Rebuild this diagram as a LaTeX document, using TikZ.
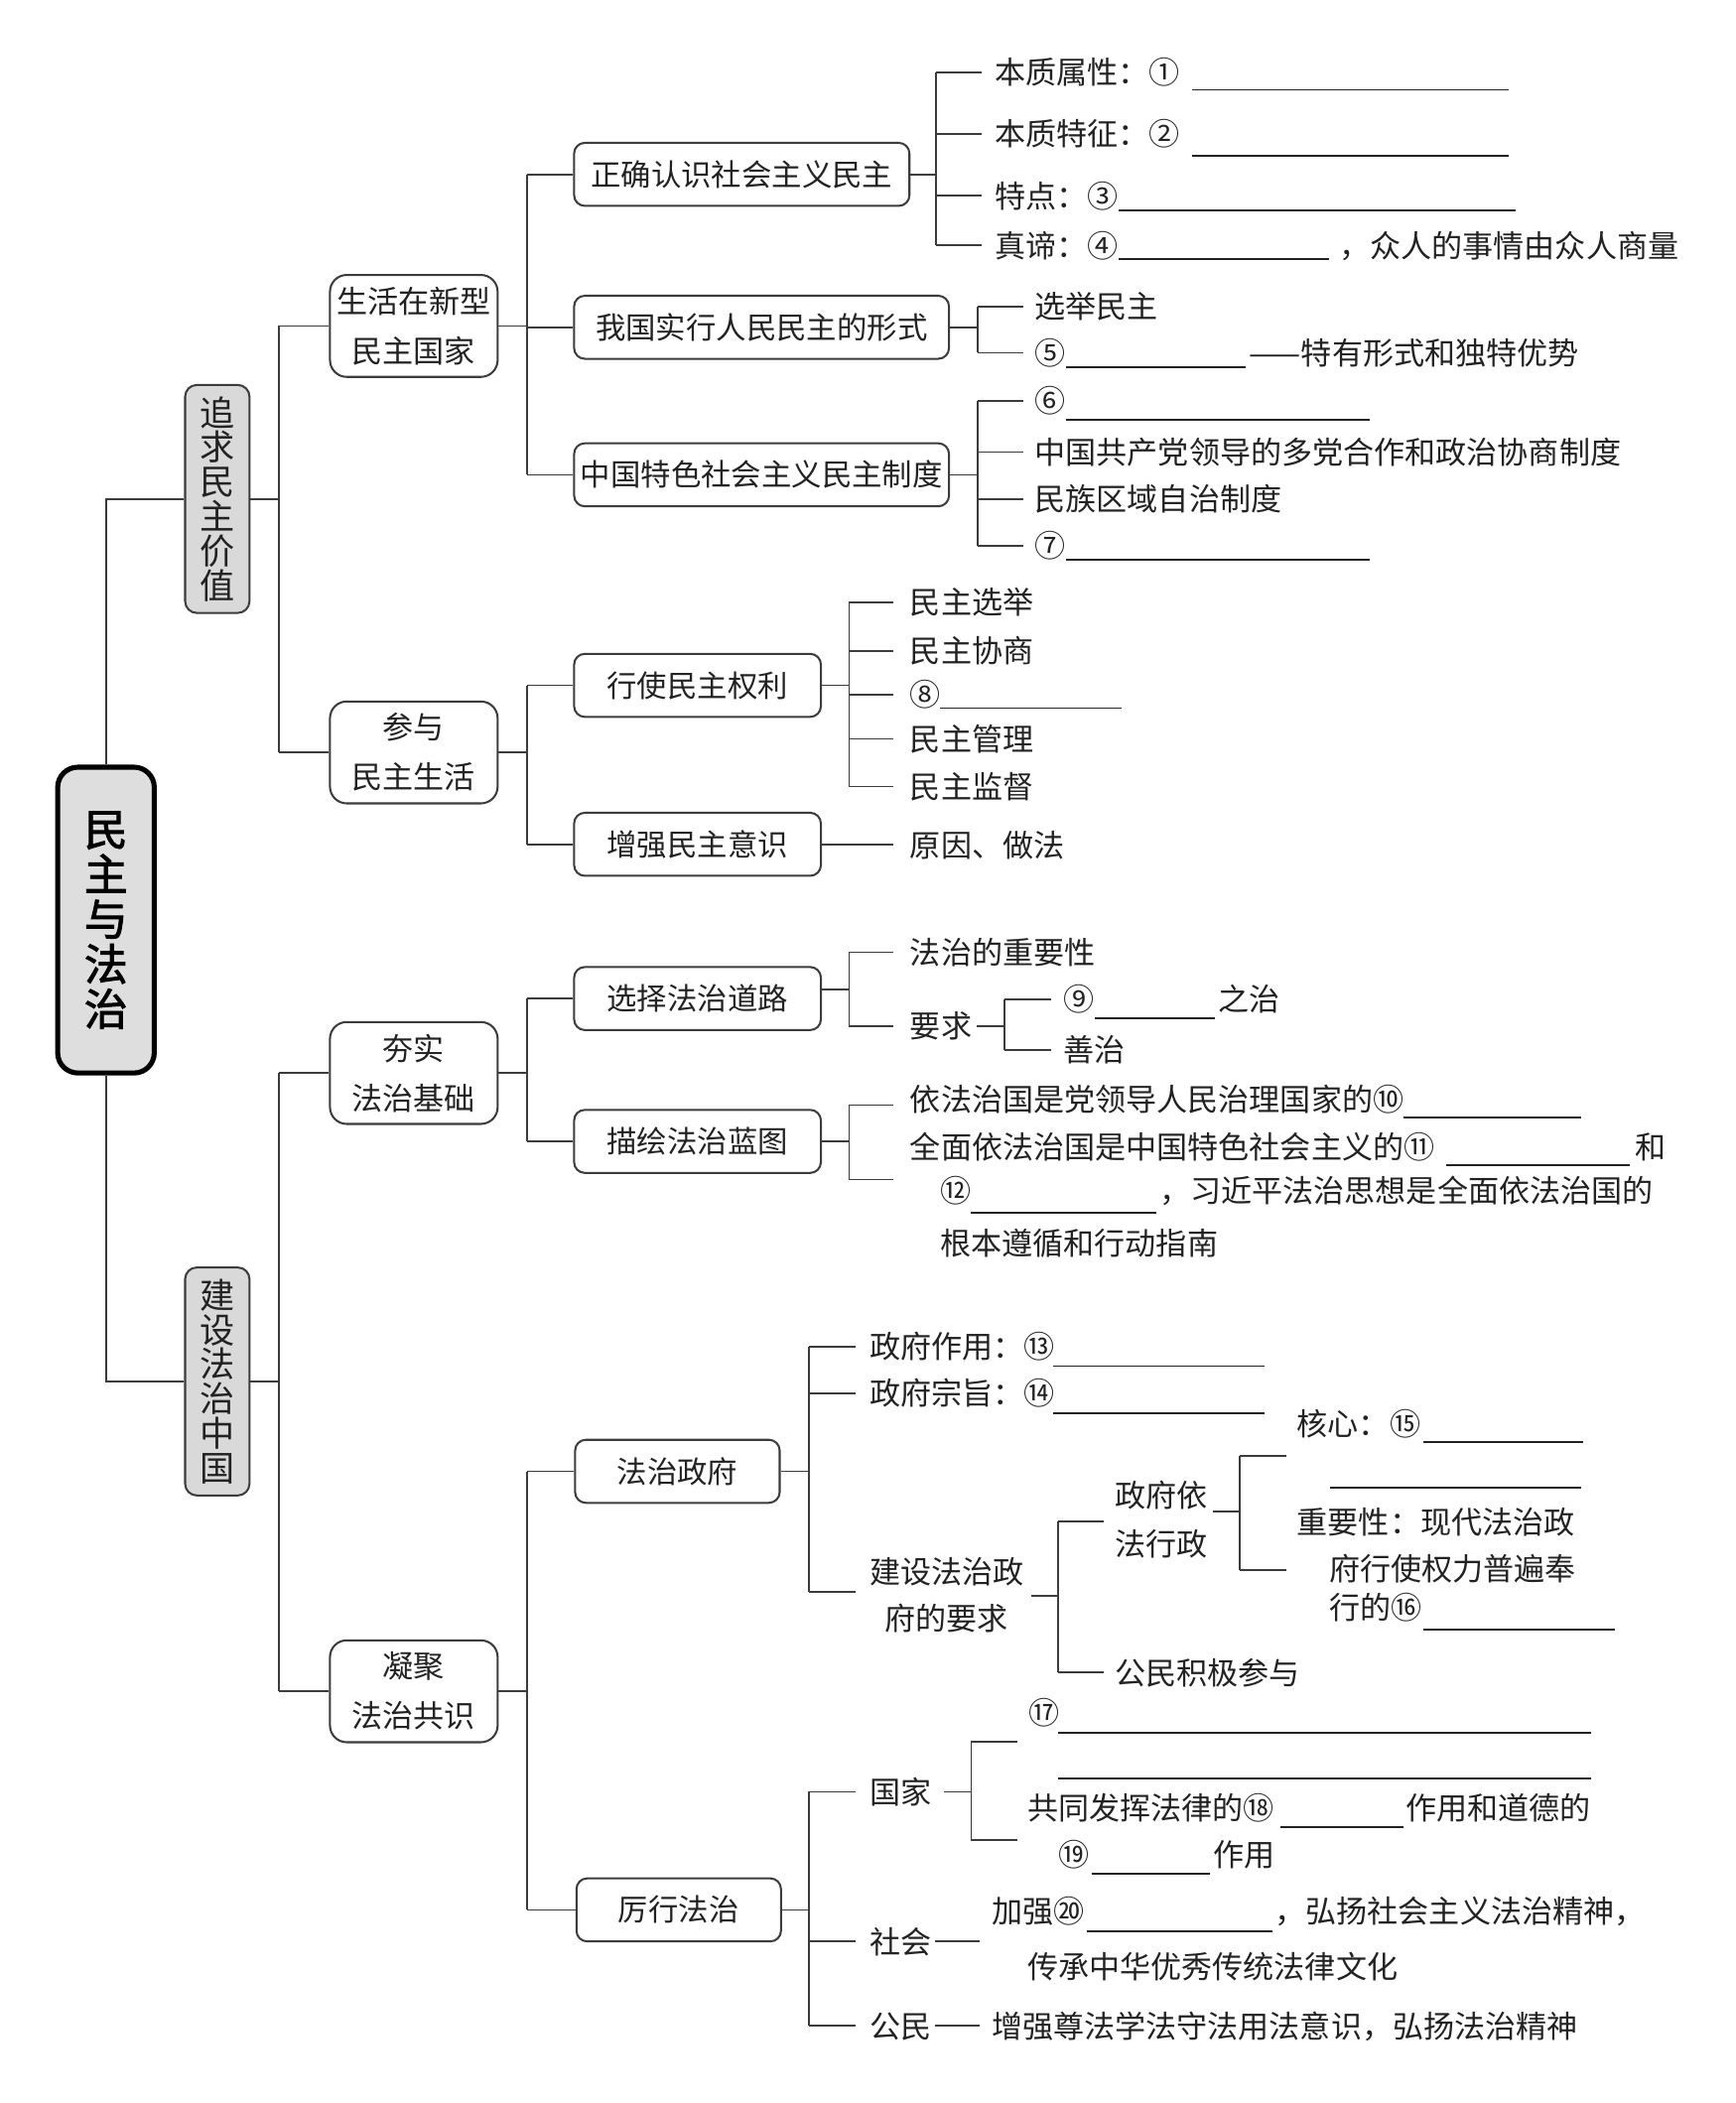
\documentclass[tikz,border=0pt]{standalone}
\usepackage{fontspec}
\newfontfamily\cjk{Noto Sans CJK SC}
\newfontfamily\cjkbold[FakeBold=2]{Noto Sans CJK SC}
\usetikzlibrary{calc}
\definecolor{ink}{HTML}{222222}
\definecolor{wire}{HTML}{3C3C3C}
\definecolor{lvlfill}{HTML}{D9D9D9}
\definecolor{rootfill}{HTML}{DEDEDE}
\newcommand{\mmfont}{\cjk\fontsize{9.2pt}{11pt}\selectfont}
\tikzset{
  ln/.style={draw=wire, line width=0.5pt},
  blank/.style={draw=ink, line width=0.55pt},
  txt/.style={anchor=west, inner sep=0pt, text=ink, font=\mmfont, text height=8.1pt, text depth=1.1pt},
  boxthree/.style={draw=wire, line width=0.6pt, rounded corners=3.2pt, fill=white, minimum height=18.8pt, inner sep=0pt, text=ink, font=\cjk\fontsize{9pt}{11pt}\selectfont},
  boxtwo/.style={draw=wire, line width=0.6pt, rounded corners=5pt, fill=white, minimum width=50pt, minimum height=30.4pt, inner sep=0pt, align=center, text=ink, font=\cjk\fontsize{9.2pt}{14.8pt}\selectfont},
  boxone/.style={draw=wire, line width=0.6pt, rounded corners=3.5pt, fill=lvlfill, minimum width=19.2pt, minimum height=68pt, inner sep=0pt, align=center, text=ink, font=\cjk\fontsize{10.4pt}{10.3pt}\selectfont},
  rootbox/.style={draw=black, line width=1.5pt, rounded corners=6pt, fill=rootfill, minimum width=28.8pt, minimum height=91.2pt, inner sep=0pt, align=center, text=black, font=\cjkbold\fontsize{13pt}{13.4pt}\selectfont},
}
\begin{document}
\begin{tikzpicture}[x=0.4pt, y=-0.4pt]
\fill[white] (0,0) rectangle (1294,1568);
\useasboundingbox (0,0) rectangle (1294,1568);

% ---------- boxes ----------
\node[rootbox] (root) at (79,686) {民\\主\\与\\法\\治};
\node[boxone] (v1) at (162,372) {追\\求\\民\\主\\价\\值};
\node[boxone] (v2) at (162,1030) {建\\设\\法\\治\\中\\国};

\node[boxtwo] (s1) at (308.5,243) {生活在新型\\民主国家};
\node[boxtwo] (s2) at (308.5,561) {参与\\民主生活};
\node[boxtwo] (s3) at (308.5,800) {夯实\\法治基础};
\node[boxtwo] (s4) at (308.5,1261) {凝聚\\法治共识};

\node[boxthree, minimum width=100pt] (p1) at (553,130) {正确认识社会主义民主};
\node[boxthree, minimum width=111.8pt] (p2) at (567.75,244) {我国实行人民民主的形式};
\node[boxthree, minimum width=111.8pt] (p3) at (567.75,354) {中国特色社会主义民主制度};
\node[boxthree, minimum width=73.6pt] (p4) at (520,511) {行使民主权利};
\node[boxthree, minimum width=73.6pt] (p5) at (520,629.5) {增强民主意识};
\node[boxthree, minimum width=73.6pt] (p6) at (520,744.5) {选择法治道路};
\node[boxthree, minimum width=73.6pt] (p7) at (520,851) {描绘法治蓝图};
\node[boxthree, minimum width=61pt] (p8) at (505,1097) {法治政府};
\node[boxthree, minimum width=61pt] (p9) at (506,1424) {厉行法治};

% ---------- texts ----------
\node[txt] (a1) at (741,54) {本质属性：①};
\node[txt] (a2) at (741,100) {本质特征：②};
\node[txt] (a3) at (741,146) {特点：③};
\node[txt] (a4) at (741,183) {真谛：④};
\node[txt] (a4t) at (998,183) {，众人的事情由众人商量};
\node[txt] (b1) at (771,228.5) {选举民主};
\node[txt] (b2) at (771,263) {⑤};
\node[txt] (b2t) at (931,263) {——特有形式和独特优势};
\node[txt] (c1) at (771,299) {⑥};
\node[txt] (c2) at (771,337) {中国共产党领导的多党合作和政治协商制度};
\node[txt] (c3) at (771,372) {民族区域自治制度};
\node[txt] (c4) at (771,407) {⑦};
\node[txt] (d1) at (678,449) {民主选举};
\node[txt] (d2) at (678,485.5) {民主协商};
\node[txt] (d3) at (678,518) {⑧};
\node[txt] (d4) at (678,551) {民主管理};
\node[txt] (d5) at (678,586.5) {民主监督};
\node[txt] (e1) at (678,630) {原因、做法};
\node[txt] (f1) at (678,710) {法治的重要性};
\node[txt] (f2) at (678,765) {要求};
\node[txt] (f3) at (792.5,745) {⑨};
\node[txt] (f3t) at (908,745) {之治};
\node[txt] (f4) at (792.5,783) {善治};
\node[txt] (g1) at (678,820) {依法治国是党领导人民治理国家的⑩};
\node[txt] (g2) at (678,855.5) {全面依法治国是中国特色社会主义的⑪};
\node[txt] (g2t) at (1218.5,855.5) {和};
\node[txt] (g3) at (700.5,888) {⑫};
\node[txt] (g3t) at (864,888) {，习近平法治思想是全面依法治国的};
\node[txt] (g4) at (700.5,927) {根本遵循和行动指南};
\node[txt] (h1) at (648,1004) {政府作用：⑬};
\node[txt] (h2) at (648,1039) {政府宗旨：⑭};
\node[txt] (h3) at (648,1171.5) {建设法治政};
\node[txt] (h3b) at (659,1207) {府的要求};
\node[txt] (i1) at (830.5,1115) {政府依};
\node[txt] (i1b) at (830.5,1151) {法行政};
\node[txt] (i2) at (830.5,1247) {公民积极参与};
\node[txt] (j1) at (966.5,1061.5) {核心：⑮};
\node[txt] (j2) at (966.5,1134.5) {重要性：现代法治政};
\node[txt] (j2b) at (990.5,1169.5) {府行使权力普遍奉};
\node[txt] (j2c) at (990.5,1198.5) {行的⑯};
\node[txt] (k1) at (648,1336) {国家};
\node[txt] (k2) at (648,1447.5) {社会};
\node[txt] (k3) at (648,1510.5) {公民};
\node[txt] (l1) at (766.5,1277) {⑰};
\node[txt] (l2) at (765.5,1348) {共同发挥法律的⑱};
\node[txt] (l2t) at (1047.5,1348) {作用和道德的};
\node[txt] (l3) at (789,1383) {⑲};
\node[txt] (l3t) at (904,1383) {作用};
\node[txt] (m1) at (738.8,1424.7) {加强⑳};
\node[txt] (m1t) at (950,1424.7) {，弘扬社会主义法治精神，};
\node[txt] (m2) at (765.5,1466) {传承中华优秀传统法律文化};
\node[txt] (n1) at (738.8,1510.5) {增强尊法学法守法用法意识，弘扬法治精神};

% ---------- bus coordinates ----------
\coordinate (bx1) at (208,0);
\coordinate (bx2) at (393,0);
\coordinate (bA) at (698,0);  \coordinate (eA) at (732,0);
\coordinate (bB) at (729,0);  \coordinate (eB) at (763,0);
\coordinate (bD) at (633,0);  \coordinate (eD) at (666,0);
\coordinate (bH) at (603,0);  \coordinate (eH) at (638,0);
\coordinate (bY) at (749,0);  \coordinate (eY) at (783.5,0);
\coordinate (bQ) at (788.6,0); \coordinate (eQ) at (822.5,0);
\coordinate (bR) at (924,0);  \coordinate (eR) at (959,0);
\coordinate (bG) at (724,0);  \coordinate (eG) at (758.5,0);
\coordinate (eS) at (730.7,0);

% ---------- connectors ----------
\draw[ln] (root.north) |- (v1.west);
\draw[ln] (root.south) |- (v2.west);

\draw[ln] (v1.east) -- (v1.east -| bx1);
\draw[ln] (bx1 |- s1.west) -- (bx1 |- s2.west);
\foreach \c in {s1,s2} {\draw[ln] (bx1 |- \c.west) -- (\c.west);}
\draw[ln] (v2.east) -- (v2.east -| bx1);
\draw[ln] (bx1 |- s3.west) -- (bx1 |- s4.west);
\foreach \c in {s3,s4} {\draw[ln] (bx1 |- \c.west) -- (\c.west);}

\draw[ln] (s1.east) -- (s1.east -| bx2);
\draw[ln] (bx2 |- p1.west) -- (bx2 |- p3.west);
\foreach \c in {p1,p2,p3} {\draw[ln] (bx2 |- \c.west) -- (\c.west);}
\draw[ln] (s2.east) -- (s2.east -| bx2);
\draw[ln] (bx2 |- p4.west) -- (bx2 |- p5.west);
\foreach \c in {p4,p5} {\draw[ln] (bx2 |- \c.west) -- (\c.west);}
\draw[ln] (s3.east) -- (s3.east -| bx2);
\draw[ln] (bx2 |- p6.west) -- (bx2 |- p7.west);
\foreach \c in {p6,p7} {\draw[ln] (bx2 |- \c.west) -- (\c.west);}
\draw[ln] (s4.east) -- (s4.east -| bx2);
\draw[ln] (bx2 |- p8.west) -- (bx2 |- p9.west);
\foreach \c in {p8,p9} {\draw[ln] (bx2 |- \c.west) -- (\c.west);}

% group A
\draw[ln] (p1.east) -- (p1.east -| bA);
\draw[ln] (bA |- a1.west) -- (bA |- a4.west);
\foreach \c in {a1,a2,a3,a4} {\draw[ln] (bA |- \c.west) -- (eA |- \c.west);}
% group B
\draw[ln] (p2.east) -- (p2.east -| bB);
\draw[ln] (bB |- b1.west) -- (bB |- b2.west);
\foreach \c in {b1,b2} {\draw[ln] (bB |- \c.west) -- (eB |- \c.west);}
% group C
\draw[ln] (p3.east) -- (p3.east -| bB);
\draw[ln] (bB |- c1.west) -- (bB |- c4.west);
\foreach \c in {c1,c2,c3,c4} {\draw[ln] (bB |- \c.west) -- (eB |- \c.west);}
% group D
\draw[ln] (p4.east) -- (p4.east -| bD);
\draw[ln] (bD |- d1.west) -- (bD |- d5.west);
\foreach \c in {d1,d2,d3,d4,d5} {\draw[ln] (bD |- \c.west) -- (eD |- \c.west);}
% group E
\draw[ln] (p5.east) -- (p5.east -| eD);
% group F
\coordinate (sF) at (633,737.5);
\draw[ln] (p6.east |- sF) -- (sF);
\draw[ln] (bD |- f1.west) -- (bD |- f2.west);
\foreach \c in {f1,f2} {\draw[ln] (bD |- \c.west) -- (eD |- \c.west);}
\draw[ln] ([xshift=1.2pt]f2.east) -- (f2.east -| bY);
\draw[ln] (bY |- f3.west) -- (bY |- f4.west);
\foreach \c in {f3,f4} {\draw[ln] (bY |- \c.west) -- (eY |- \c.west);}
% group G
\coordinate (gb1) at (633,824);
\coordinate (gb2) at (633,879.4);
\draw[ln] (p7.east) -- (p7.east -| bD);
\draw[ln] (gb1) -- (gb2);
\draw[ln] (gb1) -- (gb1 -| eD);
\draw[ln] (gb2) -- (gb2 -| eD);
% group H
\coordinate (hb3) at (603,1187);
\draw[ln] (p8.east) -- (p8.east -| bH);
\draw[ln] (bH |- h1.west) -- (hb3);
\foreach \c in {h1,h2} {\draw[ln] (bH |- \c.west) -- (eH |- \c.west);}
\draw[ln] (hb3) -- (hb3 -| eH);
\coordinate (sQ) at (768.7,1190);
\draw[ln] (sQ) -- (sQ -| bQ);
\coordinate (qb1) at (788.6,1134.6);
\draw[ln] (qb1) -- (bQ |- i2.west);
\draw[ln] (qb1) -- (qb1 -| eQ);
\draw[ln] (bQ |- i2.west) -- (eQ |- i2.west);
\coordinate (sR) at (904,1127);
\draw[ln] (sR) -- (sR -| bR);
\coordinate (rb1) at (924,1085.5);
\coordinate (rb2) at (924,1170.5);
\draw[ln] (rb1) -- (rb2);
\draw[ln] (rb1) -- (rb1 -| eR);
\draw[ln] (rb2) -- (rb2 -| eR);
% group K
\draw[ln] (p9.east) -- (p9.east -| bH);
\draw[ln] (bH |- k1.west) -- (bH |- k3.west);
\foreach \c in {k1,k2,k3} {\draw[ln] (bH |- \c.west) -- (eH |- \c.west);}
\draw[ln] ([xshift=3.6pt]k1.east) -- (k1.east -| bG);
\coordinate (gg1) at (724,1298.7);
\coordinate (gg2) at (724,1372);
\draw[ln] (gg1) -- (gg2);
\draw[ln] (gg1) -- (gg1 -| eG);
\draw[ln] (gg2) -- (gg2 -| eG);
\draw[ln] ([xshift=0.8pt]k2.east) -- (k2.east -| eS);
\draw[ln] ([xshift=0.8pt]k3.east) -- (k3.east -| eS);

% ---------- blanks ----------
\draw[blank] (889,67) -- (1125,67);
\draw[blank] (889,116) -- (1125,116);
\draw[blank] (834,157) -- (1130,157);
\draw[blank] (834,193) -- (991,193);
\draw[blank] (795,273.6) -- (929,273.6);
\draw[blank] (795,313) -- (1021,313);
\draw[blank] (795,417.6) -- (1021,417.6);
\draw[blank] (701,528) -- (836,528);
\draw[blank] (816,759) -- (905.5,759);
\draw[blank] (1046,833) -- (1179,833);
\draw[blank] (1078,868.7) -- (1215,868.7);
\draw[blank] (724,904) -- (862,904);
\draw[blank] (785,1018.6) -- (943,1018.6);
\draw[blank] (785,1053.6) -- (943,1053.6);
\draw[blank] (1061,1075) -- (1180,1075);
\draw[blank] (991.5,1109.4) -- (1178.6,1109.4);
\draw[blank] (1061,1215) -- (1204,1215);
\draw[blank] (789,1292) -- (1186.5,1292);
\draw[blank] (789,1326) -- (1186.5,1326);
\draw[blank] (954.5,1362) -- (1046,1362);
\draw[blank] (813.6,1397) -- (902,1397);
\draw[blank] (810,1440) -- (949,1440);
\end{tikzpicture}
\end{document}
